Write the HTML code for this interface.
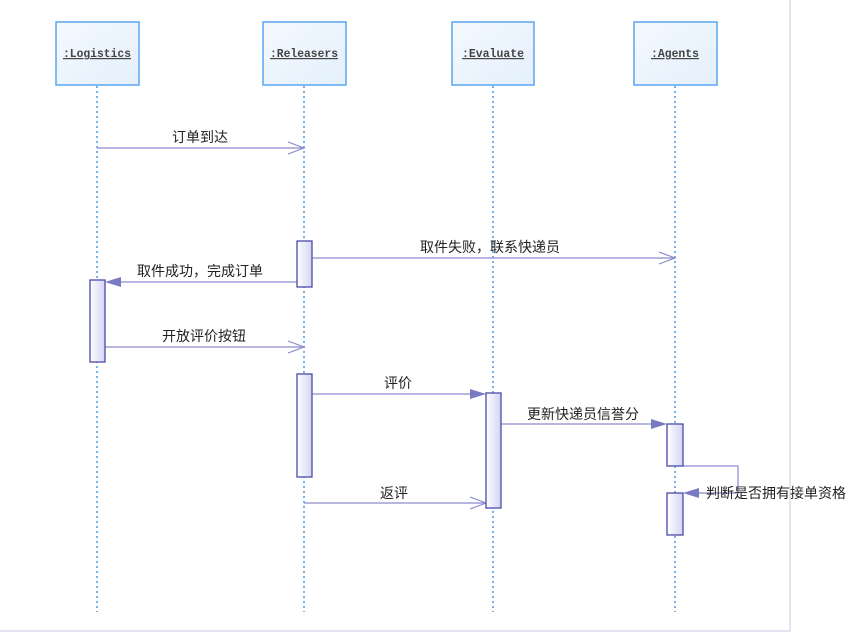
<!DOCTYPE html>
<html><head><meta charset="utf-8"><style>
body{margin:0;background:#fff;}
svg{display:block;font-family:"Liberation Sans","Noto Sans CJK SC",sans-serif;}
</style></head><body>
<svg width="865" height="642" xmlns="http://www.w3.org/2000/svg">
<defs>
<linearGradient id="g" x1="0" x2="1"><stop offset="0" stop-color="#fff"/><stop offset="1" stop-color="#d4d4f4"/></linearGradient>
<linearGradient id="h" x1="0" x2="1" y1="0" y2="1"><stop offset="0" stop-color="#f4f9fe"/><stop offset="1" stop-color="#e4f0fc"/></linearGradient>
</defs>
<line x1="790" y1="0" x2="790" y2="632" stroke="#dcdcec" stroke-width="1.5"/>
<line x1="0" y1="631" x2="790" y2="631" stroke="#dcdcec" stroke-width="1.5"/>
<g stroke="#4a9ae8" stroke-width="1.5" stroke-dasharray="2,3">
<line x1="97" y1="86" x2="97" y2="612"/><line x1="304" y1="86" x2="304" y2="612"/>
<line x1="493" y1="86" x2="493" y2="612"/><line x1="675" y1="86" x2="675" y2="612"/>
</g>
<g fill="url(#h)" stroke="#5aa6f0" stroke-width="1.5">
<rect x="56" y="22" width="83" height="63"/><rect x="263" y="22" width="83" height="63"/>
<rect x="452" y="22" width="82" height="63"/><rect x="634" y="22" width="83" height="63"/>
</g>
<g font-family="'Liberation Mono',monospace" font-size="12" font-weight="bold" text-anchor="middle" text-decoration="underline" fill="#444">
<text x="97" y="57" textLength="68" lengthAdjust="spacingAndGlyphs">:Logistics</text>
<text x="304" y="57" textLength="68" lengthAdjust="spacingAndGlyphs">:Releasers</text>
<text x="493" y="57" textLength="62" lengthAdjust="spacingAndGlyphs">:Evaluate</text>
<text x="675" y="57" textLength="48" lengthAdjust="spacingAndGlyphs">:Agents</text>
</g>
<g stroke="#8a8acc" stroke-width="1.2" fill="none">
<line x1="97" y1="148" x2="304" y2="148"/><polyline points="288,142 304,148 288,154"/>
<line x1="312" y1="258" x2="675" y2="258"/><polyline points="659,252 675,258 659,264"/>
<line x1="105" y1="347" x2="304" y2="347"/><polyline points="288,341 304,347 288,353"/>
<line x1="304" y1="503" x2="486" y2="503"/><polyline points="470,497 486,503 470,509"/>
<line x1="297" y1="282" x2="120" y2="282"/>
<line x1="312" y1="394" x2="470" y2="394"/>
<line x1="501" y1="424" x2="652" y2="424"/>
<polyline points="683,466 738,466 738,493 698,493"/>
</g>
<g fill="#7a7ac4">
<polygon points="105,282 121,277 121,287"/>
<polygon points="486,394 470,389 470,399"/>
<polygon points="667,424 651,419 651,429"/>
<polygon points="683,493 699,488 699,498"/>
</g>
<g fill="url(#g)" stroke="#4a4aa8" stroke-width="1.3">
<rect x="297" y="241" width="15" height="46"/><rect x="90" y="280" width="15" height="82"/>
<rect x="297" y="374" width="15" height="103"/><rect x="486" y="393" width="15" height="115"/>
<rect x="667" y="424" width="16" height="42"/><rect x="667" y="493" width="16" height="42"/>
</g>
<g font-size="14" fill="#222" text-anchor="middle">
<text x="200" y="142">订单到达</text>
<text x="490" y="252">取件失败，联系快递员</text>
<text x="200" y="276">取件成功，完成订单</text>
<text x="204" y="341">开放评价按钮</text>
<text x="398" y="388">评价</text>
<text x="583" y="419">更新快递员信誉分</text>
<text x="394" y="498">返评</text>
<text x="776" y="498">判断是否拥有接单资格</text>
</g>
</svg>
</body></html>
